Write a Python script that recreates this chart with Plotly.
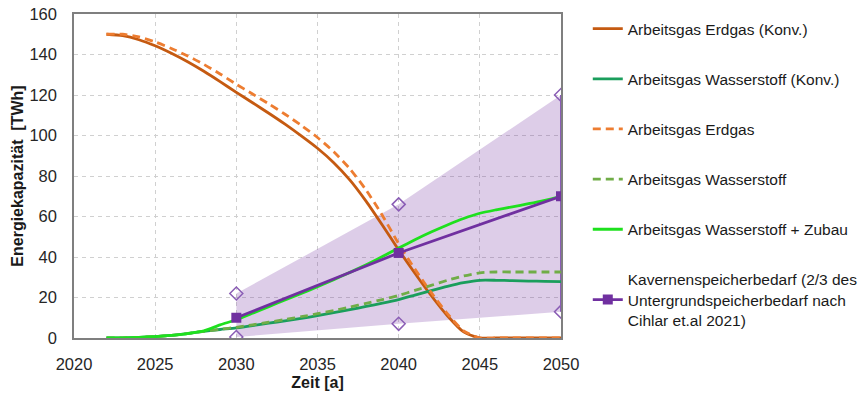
import plotly.graph_objects as go

years = list(range(2022, 2051))
erdgas_konv = [150, 149.3, 147.3, 144.3, 140.6, 136.4, 131.7, 126.6, 121.3, 116.2, 111, 105.6, 99.8, 93.7, 86.6, 78, 67.5, 55.7, 43.5, 32, 21, 11, 3, 0, 0, 0, 0, 0, 0]
erdgas = [150, 150, 148.7, 146.2, 143, 139.3, 135.1, 130.4, 125.3, 120.5, 115.6, 110.5, 105, 99, 92, 83.5, 73, 60.5, 46.5, 34, 22.5, 12, 3.5, 0, 0, 0, 0, 0, 0]
h2_konv = [0, 0.1, 0.3, 0.7, 1.3, 2.2, 3.3, 4.2, 5, 6.1, 7.3, 8.5, 9.7, 11, 12.5, 14, 15.6, 17.2, 19, 21.2, 23.4, 25.5, 27.3, 28.5, 28.5, 28.3, 28.1, 28, 27.8]
h2 = [0, 0.1, 0.3, 0.7, 1.3, 2.2, 3.3, 4.3, 5.3, 6.5, 7.8, 9.1, 10.5, 12, 13.6, 15.3, 17.1, 19, 21, 23.5, 26, 28.5, 30.6, 32.2, 32.6, 32.6, 32.6, 32.6, 32.6]
h2_zubau = [0, 0.1, 0.3, 0.7, 1.3, 2.2, 3.5, 6.5, 9, 12.2, 15.5, 18.8, 22, 25.3, 28.8, 32.4, 36.2, 40.2, 44.4, 48.5, 52.3, 55.8, 59, 61.6, 63.3, 64.8, 66.3, 68, 70]

kav_years = [2030, 2040, 2050]
kav = [10, 42, 70]
kav_low = [0.5, 7, 13]
kav_high = [22, 66, 120]

x_ticks = [2020, 2025, 2030, 2035, 2040, 2045, 2050]
y_ticks = [0, 20, 40, 60, 80, 100, 120, 140, 160]

FONT = "Liberation Sans, Arial, sans-serif"
PURPLE = "#7030A0"

fig = go.Figure()

# band
fig.add_trace(go.Scatter(x=kav_years, y=kav_high, mode="lines", line=dict(width=0),
                         showlegend=False, hoverinfo="skip"))
fig.add_trace(go.Scatter(x=kav_years, y=kav_low, mode="lines", line=dict(width=0),
                         fill="tonexty", fillcolor="rgba(112,48,160,0.24)",
                         showlegend=False, hoverinfo="skip"))
fig.add_trace(go.Scatter(x=[kav_years[-1], kav_years[-1]], y=[kav_low[-1], kav_high[-1]],
                         mode="lines", line=dict(color="#8A5DB5", width=2),
                         showlegend=False, hoverinfo="skip"))

def line(name, y, color, dash="solid", width=2.8, group=None):
    fig.add_trace(go.Scatter(x=years, y=y, mode="lines", name=name,
                             line=dict(color=color, width=width, dash=dash, shape="spline", smoothing=0.6),
                             legendgroup=group or name))

line("Arbeitsgas Erdgas (Konv.)", erdgas_konv, "#C55A11")
line("Arbeitsgas Wasserstoff (Konv.)", h2_konv, "#1A9E5C")
line("Arbeitsgas Erdgas", erdgas, "#ED7D31", dash="8px,5px")
line("Arbeitsgas Wasserstoff", h2, "#70AD47", dash="8px,5px")
line("Arbeitsgas Wasserstoff + Zubau", h2_zubau, "#1EE01E")

fig.add_trace(go.Scatter(x=kav_years, y=kav, mode="lines+markers",
                         name="Kavernenspeicherbedarf (2/3 des<br>Untergrundspeicherbedarf nach<br>Cihlar et.al 2021)",
                         line=dict(color=PURPLE, width=2.8),
                         marker=dict(symbol="square", size=10, color=PURPLE),
                         legendgroup="kav"))

for yy in (kav_high, kav_low):
    fig.add_trace(go.Scatter(x=kav_years, y=yy, mode="markers",
                             marker=dict(symbol="diamond-open", size=10, color="#8A5DB5",
                                         line=dict(width=1.5, color="#8A5DB5")),
                             showlegend=False, hoverinfo="skip"))

fig.update_layout(
    width=861, height=393,
    margin=dict(l=74, r=300, t=14, b=55, autoexpand=False),
    paper_bgcolor="white", plot_bgcolor="white",
    font=dict(family=FONT, color="#262626", size=16),
    legend=dict(x=1.055, y=1.006, xanchor="left", yanchor="top",
                font=dict(size=15.5, family=FONT, color="#1a1a1a"),
                tracegroupgap=27, itemwidth=30, bgcolor="rgba(0,0,0,0)",
                maxheight=390),
)
fig.update_xaxes(range=[2020, 2050], tickvals=x_ticks, showline=True, mirror=True,
                 linecolor="#7F7F7F", linewidth=1.5, showgrid=True, gridcolor="#D0D0D0",
                 griddash="4px,4px", zeroline=False, ticks="", ticklabelstandoff=10,
                 tickfont=dict(size=16.5, color="#262626"),
                 title=dict(text="<b>Zeit [a]</b>", font=dict(size=16, color="#1a1a1a"), standoff=5))
fig.update_yaxes(range=[0, 160], tickvals=y_ticks, showline=True, mirror=True,
                 linecolor="#7F7F7F", linewidth=1.5, showgrid=True, gridcolor="#D0D0D0",
                 griddash="4px,4px", zeroline=False, ticks="", ticklabelstandoff=12,
                 tickfont=dict(size=16.5, color="#262626"),
                 title=dict(text="<b>Energiekapazität  [TWh]</b>", font=dict(size=16, color="#1a1a1a"), standoff=2))

fig.write_html("out.html", config={"displayModeBar": False},
               post_script="document.body.style.margin='0';document.body.style.overflow='hidden';")
